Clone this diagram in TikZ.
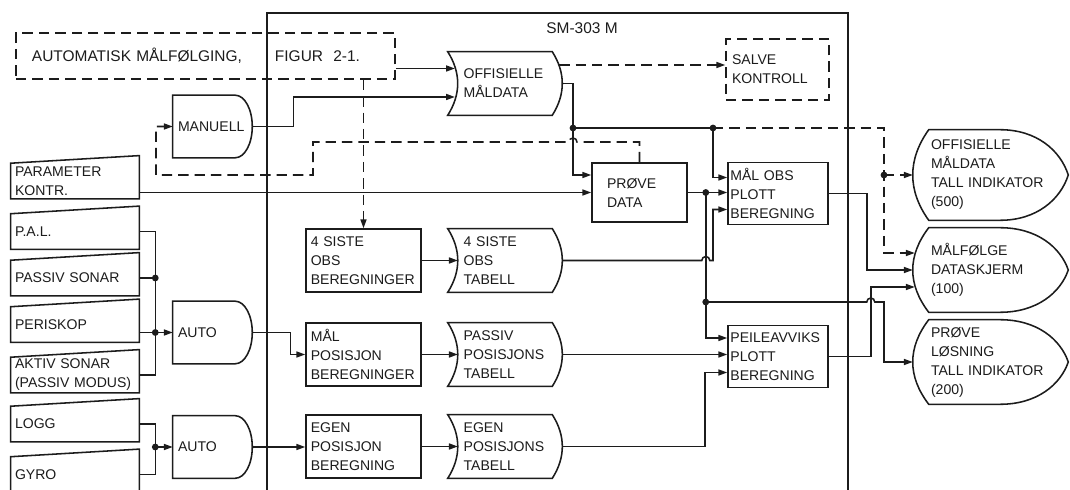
\documentclass[tikz,border=0pt]{standalone}
\usepackage{fontspec}
\setmainfont{Liberation Sans}
\usepackage{tikz}
\usetikzlibrary{
  arrows.meta,
  positioning,
  calc
}
\definecolor{inkcolor}{RGB}{28, 28, 28}
\definecolor{papercolor}{RGB}{255, 255, 255}
\hyphenpenalty=10000
\exhyphenpenalty=10000

\tikzset{
blocktext/.style={
  align=left,
  font=\fontsize{10}{13.5}\selectfont,
  text=inkcolor
},
wire/.style={
  draw=inkcolor,
  line width=1.1pt
},
dashedwire/.style={
  wire,
  dash pattern=on 2.6mm off 1.5mm
},
arrow/.style={
  -{Triangle[length=2.2mm,width=1.5mm]},
  wire
},
dashedarrow/.style={
  arrow,
  dash pattern=on 2.6mm off 1.5mm
},
calcbox/.style={
  rectangle,
  wire,
  inner xsep=0.12cm,
  inner ysep=2pt,
  text width=2.635cm,
  minimum height=1.575cm,
  blocktext
},
plotbox/.style={
  rectangle,
  wire,
  inner xsep=0.06cm,
  inner ysep=2pt,
  text width=2.38cm,
  minimum height=1.55cm,
  blocktext
},
tablebox/.style={
  inner xsep=0.14cm,
  inner ysep=2pt,
  text width=2.32cm,
  minimum height=1.575cm,
  blocktext
},
delaybox/.style={
  inner xsep=0.125cm,
  inner ysep=2pt,
  text width=1.725cm,
  minimum height=1.55cm,
  blocktext
},
inputbox/.style={
  inner xsep=0.1cm,
  inner ysep=1pt,
  text width=3.0cm,
  minimum height=0.875cm,
  blocktext
},
displaybox/.style={
  inner xsep=0.45cm,
  inner ysep=2pt,
  text width=2.975cm,
  minimum height=2.1cm,
  blocktext
}
}

% outlines drawn round the named nodes
\newcommand{\tableoutline}[1]{%
  \draw[wire] ($(#1.north west)+(-0.25,0)$)
    .. controls ($(#1.north west)!0.33!(#1.south west)+(0.083,0)$)
            and ($(#1.north west)!0.67!(#1.south west)+(0.083,0)$)
    .. ($(#1.south west)+(-0.25,0)$)
    -- ($(#1.south east)+(-0.25,0)$)
    .. controls ($(#1.south east)!0.33!(#1.north east)+(0.083,0)$)
            and ($(#1.south east)!0.67!(#1.north east)+(0.083,0)$)
    .. ($(#1.north east)+(-0.25,0)$) -- cycle;}
\newcommand{\delayoutline}[1]{%
  \draw[wire] (#1.north west) -- ($(#1.north east)+(-0.425,0)$)
    .. controls ($(#1.north east)+(-0.19,0)$) and ($(#1.east)!0.55!(#1.north east)$)
    .. (#1.east)
    .. controls ($(#1.east)!0.55!(#1.south east)$) and ($(#1.south east)+(-0.19,0)$)
    .. ($(#1.south east)+(-0.425,0)$) -- (#1.south west) -- cycle;}
\newcommand{\inputoutline}[1]{%
  \draw[wire] (#1.north west) -- ($(#1.north east)+(0,0.19)$)
    -- (#1.south east) -- (#1.south west) -- cycle;}
\newcommand{\displayoutline}[1]{%
  \draw[wire] ($(#1.north west)+(0.4,0)$) -- ($(#1.north east)+(-1.7,0)$)
    .. controls ($(#1.north east)+(-0.8,0)$) and ($(#1.east)!0.55!(#1.north east)+(-0.2,0)$)
    .. (#1.east)
    .. controls ($(#1.east)!0.55!(#1.south east)+(-0.2,0)$) and ($(#1.south east)+(-0.8,0)$)
    .. ($(#1.south east)+(-1.7,0)$) -- ($(#1.south west)+(0.4,0)$)
    .. controls ($(#1.south west)!0.33!(#1.north west)+(-0.133,0)$)
            and ($(#1.south west)!0.67!(#1.north west)+(-0.133,0)$)
    .. ($(#1.north west)+(0.4,0)$) -- cycle;}

\begin{document}
\begin{tikzpicture}[
    % Stiler
    dashframe/.style={
        rectangle,
        dashedwire,
        inner xsep=0.4cm,
        text width=8.675cm,
        minimum height=1.15cm,
        align=left,
        font=\fontsize{11}{13}\selectfont,
        text=inkcolor,
    },
    salvebox/.style={
        rectangle,
        dashedwire,
        inner xsep=0.15cm,
        inner ysep=2pt,
        text width=2.275cm,
        minimum height=1.525cm,
        blocktext,
    },
    titletext/.style={
        font=\fontsize{11}{13}\selectfont,
        text=inkcolor,
    },
]

\fill[papercolor] (0,0) rectangle (26.75,-12.25);
\useasboundingbox (0,0) rectangle (26.75,-12.25);

% ============================================================================
% SM-303 M
% ============================================================================
\draw[wire] (6.675,-12.5) |- (21.2,-0.325) -- (21.2,-12.5);
\node[titletext] (smtitle) at (14.55,-0.7) {SM-303 M};

\node[dashframe] (autom) at (5.1375,-1.4) {AUTOMATISK MÅLFØLGING,\hspace{23.5pt}FIGUR\ \ 2-1.};
\node[tablebox] (offis) at (12.75,-2.0875) {OFFISIELLE\\MÅLDATA};
\node[salvebox] (salve) at (19.4375,-1.7375) {SALVE\\KONTROLL};
\node[delaybox] (manuell) at (5.3125,-3.1625) {MANUELL};
\node[plotbox, text width=1.625cm, inner xsep=0.375cm, minimum height=1.475cm] (prove) at (15.9875,-4.8125) {PRØVE\\DATA};
\node[plotbox] (maalobs) at (19.45,-4.8375) {MÅL OBS\\PLOTT\\BEREGNING};
\node[plotbox] (peile) at (19.45,-8.9125) {PEILEAVVIKS\\PLOTT\\BEREGNING};

\node[calcbox] (siste4b) at (9.0875,-6.5125) {4 SISTE\\OBS\\BEREGNINGER};
\node[tablebox, right=0.9cm of siste4b] (siste4t) {4 SISTE\\OBS\\TABELL};
\node[calcbox] (maalpos) at (9.0875,-8.8625) {MÅL\\POSISJON\\BEREGNINGER};
\node[tablebox, right=0.9cm of maalpos] (passivtab) {PASSIV\\POSISJONS\\TABELL};
\node[calcbox] (egenpos) at (9.0875,-11.1625) {EGEN\\POSISJON\\BEREGNING};
\node[tablebox, right=0.9cm of egenpos] (egentab) {EGEN\\POSISJONS\\TABELL};

% ============================================================================
% SENSORER
% ============================================================================
\node[inputbox] (param) at (1.875,-4.525) {PARAMETER\\KONTR.};
\node[inputbox] (pal) at (1.875,-5.7875) {P.A.L.};
\node[inputbox] (passivsonar) at (1.875,-6.95) {PASSIV SONAR};
\node[inputbox] (periskop) at (1.875,-8.1125) {PERISKOP};
\node[inputbox] (aktiv) at (1.875,-9.375) {AKTIV SONAR\\(PASSIV~MODUS)};
\node[inputbox] (logg) at (1.875,-10.6) {LOGG};
\node[inputbox] (gyro) at (1.875,-11.8625) {GYRO};
\node[delaybox] (auto1) at (5.3125,-8.3125) {AUTO};
\node[delaybox] (auto2) at (5.3125,-11.175) {AUTO};

% ============================================================================
% INDIKATORER
% ============================================================================
\node[displaybox, minimum height=2.25cm] (offtall) at (24.7625,-4.375) {OFFISIELLE\\MÅLDATA\\TALL INDIKATOR\\(500)};
\node[displaybox] (maalfolge) at (24.7625,-6.75) {MÅLFØLGE\\DATASKJERM\\(100)};
\node[displaybox] (provelos) at (24.7625,-9.05) {PRØVE\\LØSNING\\TALL INDIKATOR\\(200)};

\foreach \n in {offis,siste4t,passivtab,egentab} {\tableoutline{\n}}
\foreach \n in {manuell,auto1,auto2} {\delayoutline{\n}}
\foreach \n in {param,pal,passivsonar,periskop,aktiv,logg,gyro} {\inputoutline{\n}}
\foreach \n in {offtall,maalfolge,provelos} {\displayoutline{\n}}

% Koblingspunkter
\coordinate (offin1) at ([shift={(-0.07,0.375)}]offis.west);
\coordinate (offin2) at ([shift={(-0.07,-0.3375)}]offis.west);
\coordinate (offout1) at ([shift={(-0.075,0.4625)}]offis.east);
\coordinate (provein1) at ([yshift=0.4375cm]prove.west);
\coordinate (maalin1) at ([yshift=0.4cm]maalobs.west);
\coordinate (maalin3) at ([yshift=-0.4cm]maalobs.west);
\coordinate (peilein1) at ([yshift=0.4625cm]peile.west);
\coordinate (peilein3) at ([yshift=-0.4cm]peile.west);
\coordinate (folgein1) at ([shift={(0.05,0.425)}]maalfolge.west);
\coordinate (folgein3) at ([shift={(0.05,-0.425)}]maalfolge.west);
\coordinate (peilebend) at ($(peile.east)+(1.05,0)$);
\coordinate (bus1) at ([xshift=0.4cm]pal.east);
\coordinate (bus2) at ([xshift=0.4cm]logg.east);
\coordinate (j1) at (14.325,-3.2);
\coordinate (j2) at (17.825,-3.2);
\coordinate (j3) at (22.1,-4.375);
\coordinate (j4) at ($(prove.east)+(0.45,0)$);
\coordinate (j5) at ($(j4)+(0,-2.7375)$);

% ============================================================================
% FORBINDELSER
% ============================================================================
\draw[arrow] (autom.east |- offin1) -- (offin1);
\draw[arrow] (manuell.east) -- ++(1.025,0) |- (offin2);
\draw[dashedarrow] (offout1) -- (offout1 -| salve.west);
\draw[arrow] (offis.east) -| (j1) |- (provein1);
\draw[wire] (j1) -- (j2);
\draw[arrow] (j2) |- (maalin1);
\draw[dashedarrow] (j2) -| (j3) |- (folgein1);
\draw[dashedarrow] (j3) -- (j3 -| offtall.west);

% Prøve data
\draw[arrow] (param.east |- prove.west) -- (prove.west);
\draw[arrow] (prove.east) -- (prove.east -| maalobs.west);
\draw[arrow] (j4) |- (peilein1);
\draw[arrow] (j5) -- ($(j5 -| peilebend)+(-0.1,0)$) arc[start angle=180, end angle=0, radius=0.1]
    -- (j5 -| j3) |- (provelos.west);
\draw[dashedarrow] (prove.north) |- (14.425,-3.55) arc[start angle=0, end angle=180, radius=0.1]
    -- (7.825,-3.55) |- (3.9,-4.375) |- (manuell.west);

% Tabeller
\draw[dashedarrow] (siste4b.north |- autom.south) -- (siste4b.north);
\draw[arrow] (siste4b.east) -- (siste4b.east -| siste4t.west);
\draw[arrow] (siste4t.east) -- ($(siste4t.east -| j4)+(-0.1,0)$) arc[start angle=180, end angle=0, radius=0.1]
    -- (siste4t.east -| j2) |- (maalin3);
\draw[arrow] (maalpos.east) -- (maalpos.east -| passivtab.west);
\draw[arrow] (passivtab.east) -- (passivtab.east -| peile.west);
\draw[arrow] (egenpos.east) -- (egenpos.east -| egentab.west);
\draw[arrow] (egentab.east) -| ([xshift=-0.55cm]peilein3) -- (peilein3);
\draw[arrow] (maalobs.east) -- ++(0.95,0) |- (maalfolge.west);
\draw[arrow] (peile.east) -- (peilebend) |- (folgein3);

% Sensorer
\draw[wire] (pal.east) -| (bus1 |- aktiv.east) -- (aktiv.east);
\draw[wire] (passivsonar.east) -- (passivsonar.east -| bus1);
\draw[arrow] (periskop.east |- auto1.west) -- (auto1.west);
\draw[wire] (logg.east) -| (bus2 |- gyro.east) -- (gyro.east);
\draw[arrow] (bus2 |- auto2.west) -- (auto2.west);
\draw[arrow] (auto1.east) -- ++(0.95,0) |- (maalpos.west);
\draw[arrow] (auto2.east) -- (auto2.east -| egenpos.west);

% Knutepunkter
\foreach \j in {j1,j2,j3,j4,j5} {\fill[inkcolor] (\j) circle (0.085);}
\fill[inkcolor] (passivsonar.east -| bus1) circle (0.085);
\fill[inkcolor] (bus1 |- auto1.west) circle (0.085);
\fill[inkcolor] (bus2 |- auto2.west) circle (0.085);

\end{tikzpicture}
\end{document}
